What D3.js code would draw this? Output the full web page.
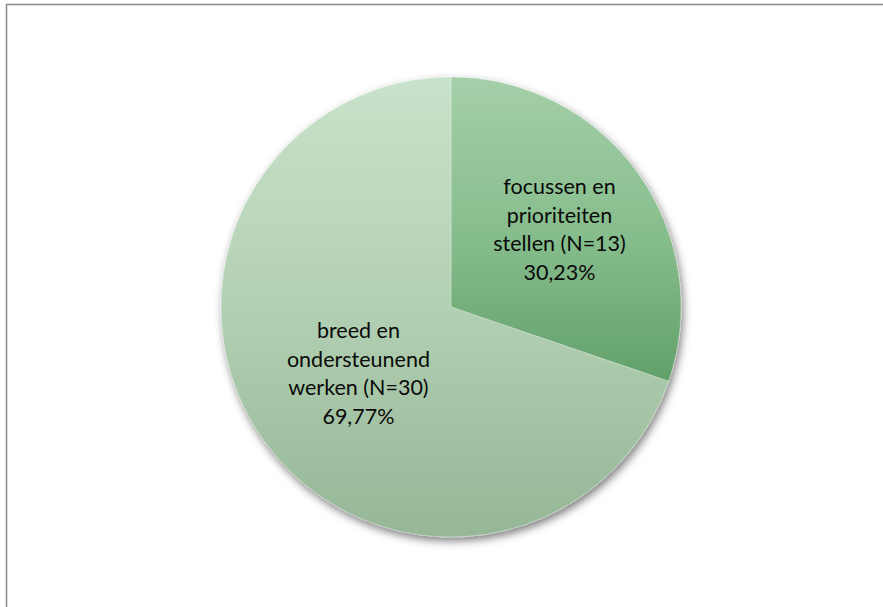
<!DOCTYPE html>
<html><head><meta charset="utf-8">
<script src="https://cdn.jsdelivr.net/npm/d3@7"></script>
<style>html,body{margin:0;padding:0;background:#fff;}svg{display:block;}</style>
</head><body>
<svg id="chart" width="883" height="607"></svg>
<script>
const categories = ["focussen en prioriteiten stellen", "breed en ondersteunend werken"];
const counts = [13, 30];
const labelLines = [["focussen en", "prioriteiten", "stellen (N=13)"], ["breed en", "ondersteunend", "werken (N=30)"]];

const W = 883, H = 607;
const cx = 451, cy = 307, R = 230;
const svg = d3.select("#chart");

// outer frame
svg.append("rect").attr("x", 6.5).attr("y", 4.5).attr("width", 1000).attr("height", 800)
  .attr("fill", "none").attr("stroke", "#929292").attr("stroke-width", 1.6);

const defs = svg.append("defs");
const f = defs.append("filter").attr("id", "shadow").attr("x", "-20%").attr("y", "-20%").attr("width", "140%").attr("height", "140%");
f.append("feDropShadow").attr("dx", 2).attr("dy", 4).attr("stdDeviation", 4).attr("flood-color", "#000").attr("flood-opacity", 0.5);

const grads = [
  [[0, "#a5cfa9"], [0.35, "#86bd8c"], [0.66, "#62a06b"], [1, "#5a9864"]],
  [[0, "#c9e2cb"], [0.5, "#b2d0b3"], [1, "#95b796"]]
];
grads.forEach((stops, i) => {
  const g = defs.append("linearGradient").attr("id", "g" + i)
    .attr("gradientUnits", "userSpaceOnUse")
    .attr("x1", 0).attr("y1", -R).attr("x2", 0).attr("y2", R);
  stops.forEach(s => g.append("stop").attr("offset", s[0]).attr("stop-color", s[1]));
});

const total = d3.sum(counts);
const data = categories.map((c, i) => ({cat: c, value: counts[i], lines: labelLines[i]}));
const pie = d3.pie().value(d => d.value).sort(null);
const arcs = pie(data);
const arc = d3.arc().innerRadius(0).outerRadius(R);

const g = svg.append("g").attr("transform", `translate(${cx},${cy})`);
const slices = g.append("g").attr("filter", "url(#shadow)");
slices.selectAll("path").data(arcs).join("path")
  .attr("d", arc)
  .attr("fill", (d, i) => `url(#g${i})`)
  .attr("stroke", "rgba(255,255,255,0.35)").attr("stroke-width", 0.8);

const fmt = v => (v * 100).toFixed(2).replace(".", ",") + "%";
const lineH = 28.5;
arcs.forEach((d, i) => {
  const lr = R * (i === 0 ? 0.58 : 0.495);
  const la = d3.arc().innerRadius(lr).outerRadius(lr);
  const [x, y] = la.centroid(d);
  const lines = d.data.lines.concat([fmt(d.data.value / total)]);
  const t = g.append("text").attr("text-anchor", "middle")
    .attr("font-family", "Lato, 'Open Sans', sans-serif").attr("font-size", 21.5).attr("fill", "#0a0a0a");
  lines.forEach((l, k) => {
    t.append("tspan").attr("x", x).attr("y", y + (k - (lines.length - 1) / 2) * lineH).attr("dy", "0.35em").text(l);
  });
});
</script>
</body></html>
